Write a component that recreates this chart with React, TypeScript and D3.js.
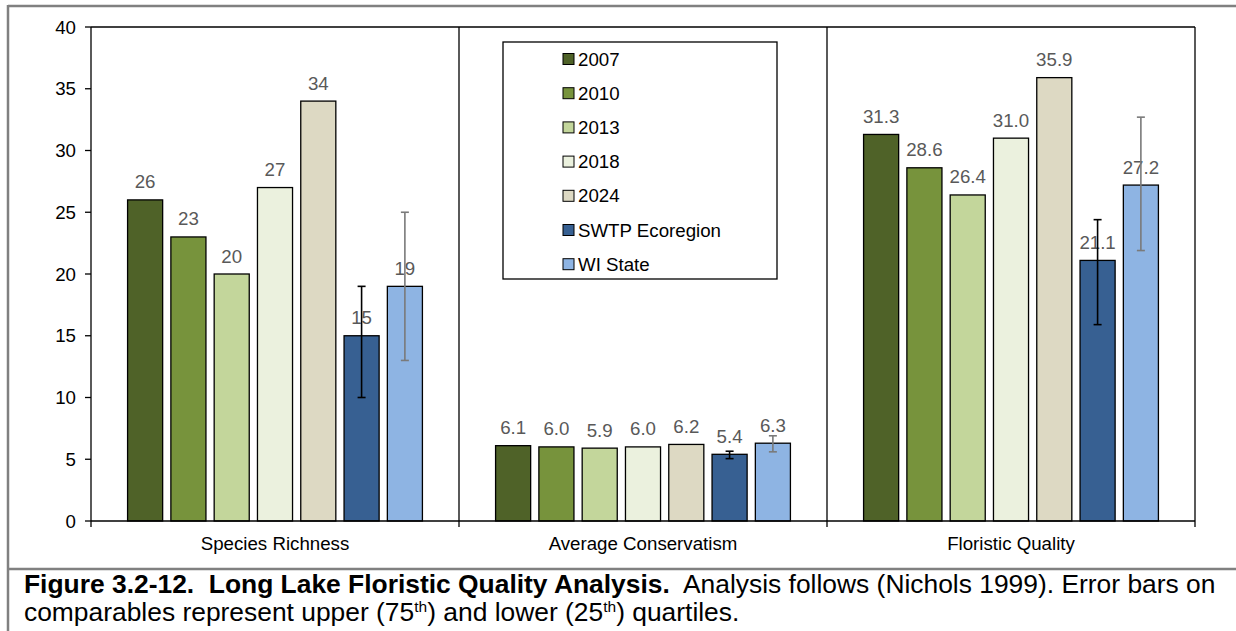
import React from "react";
import * as d3 from "d3";

const categories = ["Species Richness", "Average Conservatism", "Floristic Quality"];
const series = ["2007", "2010", "2013", "2018", "2024", "SWTP Ecoregion", "WI State"];
const speciesRichness = [26, 23, 20, 27, 34, 15, 19];
const avgConservatism = [6.1, 6.0, 5.9, 6.0, 6.2, 5.4, 6.3];
const floristicQuality = [31.3, 28.6, 26.4, 31.0, 35.9, 21.1, 27.2];
const swtpLower = [10, 5.05, 15.9];
const swtpUpper = [19, 5.65, 24.4];
const wiLower = [13, 5.6, 21.9];
const wiUpper = [25, 6.9, 32.7];
const yTicks = [0, 5, 10, 15, 20, 25, 30, 35, 40];
const labelDecimals = [0, 1, 1];

const seriesColors = ["#4F6228", "#77933C", "#C3D69B", "#EBF1DE", "#DDD9C3", "#376092", "#8EB4E3"];
const values = [speciesRichness, avgConservatism, floristicQuality];

const W = 1236;
const H = 631;
const FONT = "'Liberation Sans', Arial, sans-serif";
const FS = 18.7;
const CFS = 26.4;

export default function App() {
  const x = d3.scaleBand<string>().domain(categories).range([91, 1195]).padding(0);
  const xi = d3
    .scaleBand<string>()
    .domain(series)
    .range([0, x.bandwidth()])
    .paddingInner(0.19)
    .paddingOuter(0.845);
  const y = d3.scaleLinear().domain([0, 40]).range([521, 27]);

  const errs = [
    { s: 5, lo: swtpLower, hi: swtpUpper, color: "#000000" },
    { s: 6, lo: wiLower, hi: wiUpper, color: "#7A7A7A" },
  ];

  return (
    <div>
      <style>{`body{margin:0}`}</style>
      <svg width={W} height={H} style={{ display: "block", fontFamily: FONT }}>
        <rect x={0} y={0} width={W} height={H} fill="#ffffff" />
        {/* outer frame */}
        <line x1={8} x2={W} y1={6} y2={6} stroke="#808080" strokeWidth={2.5} />
        <line x1={8} x2={8} y1={5} y2={H} stroke="#808080" strokeWidth={2.5} />
        <line x1={8} x2={W} y1={569} y2={569} stroke="#808080" strokeWidth={2.5} />

        {/* plot area border */}
        <line x1={91} x2={1195} y1={y(40)} y2={y(40)} stroke="#000" strokeWidth={1.3} />
        <line x1={1195} x2={1195} y1={y(40)} y2={y(0) + 6} stroke="#000" strokeWidth={1.3} />
        {categories.slice(1).map((c) => (
          <line key={c} x1={x(c)!} x2={x(c)!} y1={y(40)} y2={y(0) + 6} stroke="#000" strokeWidth={1.3} />
        ))}
        <line x1={91} x2={91} y1={y(40)} y2={y(0) + 6} stroke="#000" strokeWidth={1.3} />

        {/* bars */}
        {categories.map((c, ci) =>
          series.map((s, si) => {
            const v = values[ci][si];
            const bx = x(c)! + xi(s)!;
            return (
              <rect
                key={c + s}
                x={bx}
                y={y(v)}
                width={xi.bandwidth()}
                height={y(0) - y(v)}
                fill={seriesColors[si]}
                stroke="#000"
                strokeWidth={1.3}
              />
            );
          })
        )}

        {/* data labels */}
        {categories.map((c, ci) =>
          series.map((s, si) => {
            const v = values[ci][si];
            const cx = x(c)! + xi(s)! + xi.bandwidth() / 2;
            return (
              <text
                key={"l" + c + s}
                x={cx}
                y={y(v) - 11.5}
                textAnchor="middle"
                fontSize={FS}
                fill="#595959"
              >
                {v.toFixed(labelDecimals[ci])}
              </text>
            );
          })
        )}

        {/* error bars */}
        {errs.map((e) =>
          categories.map((c, ci) => {
            const cx = x(c)! + xi(series[e.s])! + xi.bandwidth() / 2;
            const lo = y(e.lo[ci]);
            const hi = y(e.hi[ci]);
            return (
              <g key={"e" + e.s + c} stroke={e.color} strokeWidth={1.6}>
                <line x1={cx} x2={cx} y1={lo} y2={hi} />
                <line x1={cx - 4} x2={cx + 4} y1={lo} y2={lo} />
                <line x1={cx - 4} x2={cx + 4} y1={hi} y2={hi} />
              </g>
            );
          })
        )}

        {/* x axis */}
        <line x1={91} x2={1195} y1={y(0)} y2={y(0)} stroke="#000" strokeWidth={1.3} />
        {categories.map((c) => (
          <text
            key={"c" + c}
            x={x(c)! + x.bandwidth() / 2}
            y={550}
            textAnchor="middle"
            fontSize={FS}
            fill="#000"
          >
            {c}
          </text>
        ))}

        {/* y axis ticks */}
        {yTicks.map((t) => (
          <g key={"t" + t}>
            <line x1={85} x2={91} y1={y(t)} y2={y(t)} stroke="#000" strokeWidth={1.3} />
            <text x={76} y={y(t) + 6.5} textAnchor="end" fontSize={FS} fill="#000">
              {t}
            </text>
          </g>
        ))}

        {/* legend */}
        <rect x={503} y={42} width={274} height={237} fill="#fff" stroke="#000" strokeWidth={1.3} />
        {series.map((s, si) => {
          const cy = 59 + si * 34.2;
          return (
            <g key={"lg" + s}>
              <rect x={563} y={cy - 5.5} width={11} height={11} fill={seriesColors[si]} stroke="#000" strokeWidth={1} />
              <text x={578} y={cy + 6.5} fontSize={FS} fill="#000">
                {s}
              </text>
            </g>
          );
        })}

        {/* caption */}
        <text x={24} y={593} fontSize={CFS} fill="#000" xmlSpace="preserve" style={{ whiteSpace: "pre" }}>
          <tspan fontWeight="bold">{"Figure 3.2-12.  Long Lake Floristic Quality Analysis."}</tspan>
          <tspan>{"  Analysis follows (Nichols 1999). Error bars on"}</tspan>
        </text>
        <text x={24} y={621} fontSize={CFS} fill="#000">
          {"comparables represent upper (75"}
          <tspan fontSize={15.5} dy={-9.5}>th</tspan>
          <tspan dy={9.5}>{") and lower (25"}</tspan>
          <tspan fontSize={15.5} dy={-9.5}>th</tspan>
          <tspan dy={9.5}>{") quartiles."}</tspan>
        </text>
      </svg>
    </div>
  );
}
